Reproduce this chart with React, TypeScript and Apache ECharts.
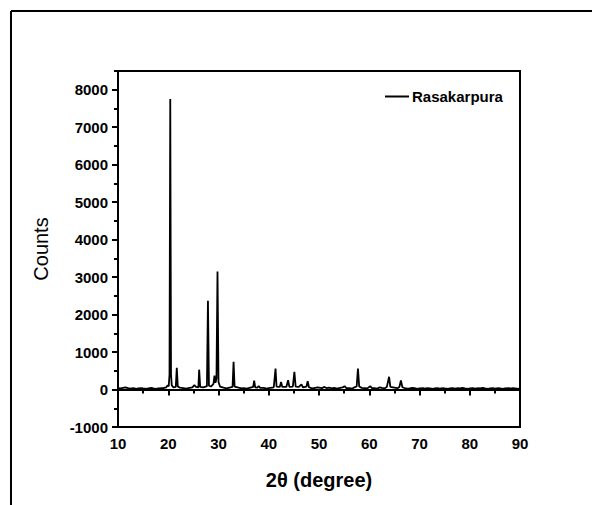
import React, { useEffect, useRef } from "react";
import * as echarts from "echarts";

const twoTheta: number[] = [
  10.0, 10.5, 11.0, 11.5, 12.0, 12.6, 13.0, 13.7, 14.0, 14.6, 15.0, 15.8, 16.0, 16.7, 17.0, 17.6, 18.0, 18.7, 19.0,
  19.6, 19.9, 20.1, 20.25, 20.4, 20.55, 20.7, 21.0, 21.5, 21.7, 21.9, 22.3, 23.0, 23.6, 24.0, 24.8, 25.2, 25.5,
  26.0, 26.15, 26.35, 27.0, 27.7, 27.9, 28.1, 28.5, 29.0, 29.2, 29.4, 29.6, 29.8, 30.0, 30.3, 31.0, 31.6, 32.0,
  32.8, 33.0, 33.2, 34.0, 34.6, 35.0, 35.7, 36.0, 36.9, 37.1, 37.3, 37.7, 38.0, 38.3, 39.0, 39.6, 40.0, 41.0,
  41.35, 41.55, 42.2, 42.45, 42.7, 43.5, 43.85, 44.1, 44.8, 45.1, 45.35, 46.0, 46.5, 46.8, 47.5, 47.75, 48.0,
  48.6, 49.0, 49.7, 50.0, 50.6, 51.0, 51.5, 52.0, 52.6, 53.0, 53.6, 54.0, 54.7, 55.1, 55.4, 56.0, 56.6, 57.0,
  57.5, 57.75, 58.0, 58.5, 59.0, 59.6, 60.2, 60.5, 61.0, 61.6, 62.1, 62.5, 63.0, 63.5, 63.95, 64.2, 65.0, 65.6,
  66.0, 66.3, 66.6, 67.0, 67.6, 68.0, 68.6, 69.0, 69.5, 70.0, 70.7, 71.0, 71.6, 72.0, 72.8, 73.0, 73.6, 74.0,
  74.7, 75.0, 75.8, 76.0, 76.6, 77.0, 77.7, 78.0, 78.6, 79.0, 79.7, 80.0, 80.6, 81.0, 81.8, 82.0, 82.6, 83.0,
  83.7, 84.0, 84.6, 85.0, 85.7, 86.0, 86.6, 87.0, 87.8, 88.0, 88.6, 89.0, 89.6, 90.0,
];
const counts: number[] = [
  40, 30, 45, 60, 40, 25, 35, 20, 30, 40, 30, 20, 32, 45, 30, 20, 30, 40, 35,
  60, 110, 90, 400, 7750, 400, 110, 60, 70, 580, 80, 50, 40, 25, 40, 60, 120, 70,
  60, 530, 70, 60, 90, 2370, 100, 80, 150, 370, 180, 300, 3150, 200, 80, 50, 30, 45,
  70, 740, 80, 50, 30, 40, 25, 40, 70, 240, 60, 50, 90, 45, 45, 25, 40, 60,
  560, 80, 70, 200, 70, 70, 250, 70, 80, 470, 80, 70, 135, 60, 80, 220, 60,
  30, 40, 55, 50, 35, 70, 40, 50, 30, 45, 25, 40, 55, 90, 40, 40, 25, 55,
  80, 560, 80, 45, 40, 30, 90, 40, 40, 25, 60, 45, 30, 70, 340, 70, 50, 35,
  70, 240, 60, 40, 25, 30, 45, 40, 20, 30, 40, 25, 35, 30, 20, 30, 40, 25,
  35, 30, 20, 30, 40, 25, 35, 30, 45, 30, 20, 30, 40, 25, 35, 30, 45, 30,
  20, 30, 40, 25, 35, 30, 20, 30, 40, 25, 35, 30, 20, 30,
];
const seriesName = "Rasakarpura";
const xTitle = "2θ (degree)";
const yTitle = "Counts";

export default function App() {
  const ref = useRef<HTMLDivElement>(null);
  useEffect(() => {
    document.body.style.margin = "0";
    if (!ref.current) return;
    const chart = echarts.init(ref.current, null, { renderer: "svg" });
    const data = twoTheta.map((x, i) => [x, counts[i]]);
    const font = "'Liberation Sans', Arial, sans-serif";
    const gridTop = 71;
    const gridBottom = 78;
    const gridH = 505 - gridTop - gridBottom;
    const topB = gridTop + (gridH * 500) / 9500;
    const plain = (v: number) => String(v);
    chart.setOption({
      animation: false,
      backgroundColor: "#fff",
      grid: [
        {
          left: 118,
          right: 72,
          top: gridTop,
          bottom: gridBottom,
          show: true,
          borderColor: "#000",
          borderWidth: 2,
          backgroundColor: "transparent",
        },
        { left: 118, right: 72, top: topB, bottom: gridBottom },
      ],
      xAxis: [
        {
          type: "value",
          gridIndex: 0,
          min: 10,
          max: 90,
          interval: 10,
          name: xTitle,
          nameLocation: "middle",
          nameGap: 43,
          nameTextStyle: { fontFamily: font, fontWeight: "bold", fontSize: 20, color: "#000" },
          axisLine: { show: true, lineStyle: { color: "#000", width: 2 } },
          axisTick: { show: true, inside: false, length: 6, lineStyle: { color: "#000", width: 2 } },
          minorTick: { show: true, splitNumber: 2, length: 4, lineStyle: { color: "#000", width: 2 } },
          axisLabel: { fontFamily: font, fontWeight: "bold", fontSize: 15, color: "#000", margin: 9, formatter: plain },
          splitLine: { show: false },
        },
        {
          type: "value",
          gridIndex: 1,
          min: 10,
          max: 90,
          show: false,
        },
      ],
      yAxis: [
        {
          type: "value",
          gridIndex: 0,
          min: -1000,
          max: 8500,
          interval: 500,
          name: yTitle,
          nameLocation: "middle",
          nameGap: 67,
          nameTextStyle: { fontFamily: font, fontSize: 20, color: "#000" },
          axisLine: { show: true, lineStyle: { color: "#000", width: 2 } },
          axisTick: { show: true, inside: false, length: 4, lineStyle: { color: "#000", width: 2 } },
          axisLabel: { show: false },
          splitLine: { show: false },
        },
        {
          type: "value",
          gridIndex: 1,
          min: -1000,
          max: 8000,
          interval: 1000,
          axisLine: { show: false },
          axisTick: { show: true, inside: false, length: 6, lineStyle: { color: "#000", width: 2 } },
          axisLabel: { fontFamily: font, fontWeight: "bold", fontSize: 15, color: "#000", margin: 10, formatter: plain },
          splitLine: { show: false },
        },
      ],
      legend: {
        left: 380,
        top: 84,
        itemWidth: 24,
        itemHeight: 2,
        data: [{ name: seriesName, icon: "rect" }],
        textStyle: { fontFamily: font, fontWeight: "bold", fontSize: 15, color: "#000", padding: [0, 0, 0, -2] },
      },
      series: [
        {
          name: seriesName,
          type: "line",
          xAxisIndex: 0,
          yAxisIndex: 0,
          data,
          symbol: "none",
          lineStyle: { color: "#000", width: 1.8 },
          itemStyle: { color: "#000" },
        },
      ],
      graphic: [
        { type: "line", shape: { x1: 11, y1: 11, x2: 592, y2: 11 }, style: { stroke: "#000", lineWidth: 2 } },
        { type: "line", shape: { x1: 11, y1: 11, x2: 11, y2: 505 }, style: { stroke: "#000", lineWidth: 2 } },
      ],
    });
    return () => chart.dispose();
  }, []);
  return <div ref={ref} style={{ width: 592, height: 505 }} />;
}
